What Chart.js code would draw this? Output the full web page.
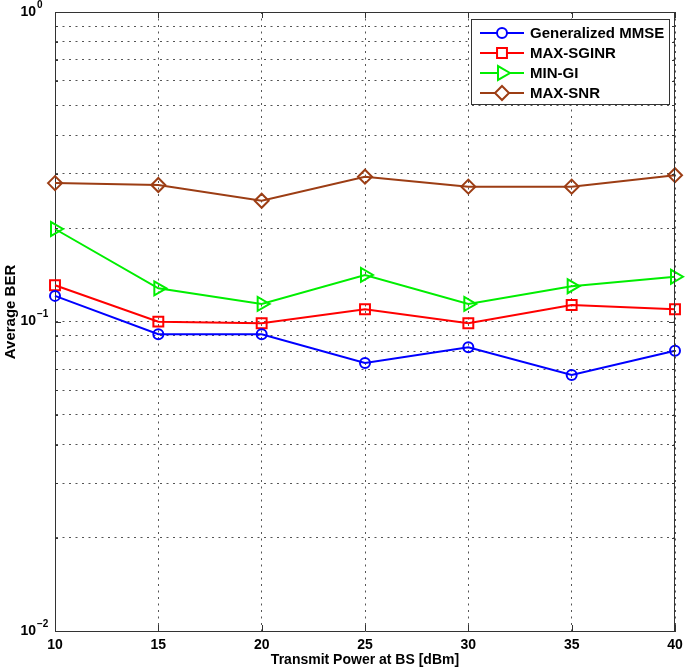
<!DOCTYPE html>
<html>
<head>
<meta charset="utf-8">
<script src="https://cdn.jsdelivr.net/npm/chart.js@4/dist/chart.umd.min.js"></script>
<style>
  html, body { margin: 0; padding: 0; background: #fff; }
  #wrap { width: 685px; height: 670px; }
</style>
</head>
<body>
<div id="wrap"><canvas id="grafico" width="685" height="670"></canvas></div>
<script>
// Datos
var potencias = [10, 15, 20, 25, 30, 35, 40];
var berMMSE   = [0.121, 0.091, 0.091, 0.0735, 0.0825, 0.0672, 0.0805];
var berSGINR  = [0.131, 0.0999, 0.0987, 0.1095, 0.0987, 0.113, 0.1095];
var berMINGI  = [0.199, 0.128, 0.114, 0.1414, 0.114, 0.130, 0.1395];
var berMAXSNR = [0.280, 0.276, 0.2456, 0.2937, 0.2727, 0.2727, 0.297];

var etiquetas = ['Generalized MMSE', 'MAX-SGINR', 'MIN-GI', 'MAX-SNR'];
var ticksX = [10, 15, 20, 25, 30, 35, 40];
var ticksY = [0.01, 0.02, 0.03, 0.04, 0.05, 0.06, 0.07, 0.08, 0.09,
              0.1, 0.2, 0.3, 0.4, 0.5, 0.6, 0.7, 0.8, 0.9, 1];
var decadas = [1, 0.1, 0.01];
var exponentes = ['0', '\u22121', '\u22122'];

var fuente = '"Liberation Sans", Arial, sans-serif';

function puntos(valores) {
    return potencias.map(function (p, i) { return { x: p, y: valores[i] }; });
}

function serie(nombre, valores, color, estilo, radio, rot) {
    return {
        label: nombre,
        data: puntos(valores),
        borderColor: color,
        backgroundColor: color,
        borderWidth: 2,
        pointStyle: estilo,
        pointRadius: radio,
        pointRotation: rot || 0,
        pointBorderColor: color,
        pointBorderWidth: 2,
        pointBackgroundColor: 'rgba(0,0,0,0)',
        tension: 0,
        clip: false
    };
}

// Dibuja un marcador simple para la leyenda (mismo tamaño que Chart.js)
function marcador(ctx, estilo, x, y, r, color) {
    ctx.save();
    ctx.strokeStyle = color;
    ctx.lineWidth = 2;
    ctx.fillStyle = '#fff';
    ctx.beginPath();
    if (estilo === 'circle') {
        ctx.arc(x, y, r, 0, Math.PI * 2);
    } else if (estilo === 'rect') {
        var s = r * Math.SQRT1_2;
        ctx.rect(x - s, y - s, s * 2, s * 2);
    } else if (estilo === 'triangle') {
        ctx.moveTo(x + r, y);
        ctx.lineTo(x - r * 0.5, y - r * 0.87);
        ctx.lineTo(x - r * 0.5, y + r * 0.87);
        ctx.closePath();
    } else if (estilo === 'rectRot') {
        ctx.moveTo(x, y - r);
        ctx.lineTo(x + r, y);
        ctx.lineTo(x, y + r);
        ctx.lineTo(x - r, y);
        ctx.closePath();
    }
    ctx.fill();
    ctx.stroke();
    ctx.restore();
}

var extras = {
    id: 'extras',
    afterDraw: function (chart) {
        var ctx = chart.ctx;
        var a = chart.chartArea;
        var sy = chart.scales.y;
        var sx = chart.scales.x;

        // marco superior y derecho + marcas interiores
        ctx.save();
        ctx.strokeStyle = '#333';
        ctx.lineWidth = 1;
        ctx.beginPath();
        ctx.moveTo(a.left, a.top + 0.5);
        ctx.lineTo(a.right, a.top + 0.5);
        ctx.moveTo(a.right - 0.5, a.top);
        ctx.lineTo(a.right - 0.5, a.bottom);
        ticksY.forEach(function (v) {
            var y = Math.round(sy.getPixelForValue(v)) + 0.5;
            var l = decadas.indexOf(v) >= 0 ? 6 : 3;
            ctx.moveTo(a.left, y); ctx.lineTo(a.left + l, y);
            ctx.moveTo(a.right, y); ctx.lineTo(a.right - l, y);
        });
        ticksX.forEach(function (v) {
            var x = Math.round(sx.getPixelForValue(v)) + 0.5;
            ctx.moveTo(x, a.bottom); ctx.lineTo(x, a.bottom - 6);
            ctx.moveTo(x, a.top); ctx.lineTo(x, a.top + 6);
        });
        ctx.stroke();
        ctx.restore();

        // etiquetas del eje Y con exponente
        ctx.save();
        ctx.fillStyle = '#000';
        ctx.textBaseline = 'middle';
        decadas.forEach(function (v, i) {
            var y = sy.getPixelForValue(v);
            ctx.font = 'bold 14px ' + fuente;
            ctx.textAlign = 'right';
            ctx.fillText('10', 36, y);
            ctx.font = 'bold 10px ' + fuente;
            ctx.textAlign = 'left';
            ctx.fillText(exponentes[i], 37, y - 7);
        });
        // título del eje Y
        ctx.translate(11, 312);
        ctx.rotate(-Math.PI / 2);
        ctx.textAlign = 'center';
        ctx.font = 'bold 15px ' + fuente;
        ctx.fillText('Average BER', 0, 0);
        ctx.restore();

        // leyenda dentro del área
        ctx.save();
        ctx.fillStyle = '#fff';
        ctx.fillRect(471, 19, 198, 85);
        ctx.strokeStyle = '#333';
        ctx.lineWidth = 1;
        ctx.strokeRect(471.5, 19.5, 198, 85);
        chart.data.datasets.forEach(function (ds, i) {
            var y = 33 + i * 20;
            ctx.strokeStyle = ds.borderColor;
            ctx.lineWidth = 2;
            ctx.beginPath();
            ctx.moveTo(480, y);
            ctx.lineTo(524, y);
            ctx.stroke();
            marcador(ctx, ds.pointStyle, 502, y, ds.pointRadius, ds.borderColor);
            ctx.fillStyle = '#000';
            ctx.font = 'bold 15px ' + fuente;
            ctx.textAlign = 'left';
            ctx.textBaseline = 'middle';
            ctx.fillText(ds.label, 530, y + 1);
        });
        ctx.restore();
    }
};

var ctxBER = document.getElementById('grafico').getContext('2d');
var grafico = new Chart(ctxBER, {
    type: 'line',
    data: {
        datasets: [
            serie(etiquetas[0], berMMSE, '#0000ff', 'circle', 5),
            serie(etiquetas[1], berSGINR, '#ff0000', 'rect', 7),
            serie(etiquetas[2], berMINGI, '#00ee00', 'triangle', 8, 90),
            serie(etiquetas[3], berMAXSNR, '#9c3d14', 'rectRot', 7)
        ]
    },
    options: {
        responsive: false,
        animation: false,
        events: [],
        layout: { autoPadding: false, padding: { top: 12, right: 10, left: 0, bottom: 0 } },
        plugins: {
            legend: { display: false },
            tooltip: { enabled: false }
        },
        scales: {
            x: {
                type: 'linear',
                min: 10,
                max: 40,
                afterBuildTicks: function (scale) {
                    scale.ticks = ticksX.map(function (v) { return { value: v }; });
                },
                afterFit: function (scale) {
                    scale.height = 39;
                    scale.paddingLeft = 0;
                    scale.paddingRight = 0;
                },
                ticks: {
                    color: '#000',
                    font: { family: fuente, size: 14, weight: 'bold' },
                    padding: 6,
                    maxRotation: 0
                },
                grid: { color: '#555', lineWidth: 1, drawTicks: false },
                border: { color: '#333', width: 1, dash: [2, 4.5] },
                title: {
                    display: true,
                    text: 'Transmit Power at BS [dBm]',
                    color: '#000',
                    font: { family: fuente, size: 14, weight: 'bold' },
                    padding: { top: 0, bottom: 1 }
                }
            },
            y: {
                type: 'logarithmic',
                min: 0.01,
                max: 1,
                afterBuildTicks: function (scale) {
                    scale.ticks = ticksY.map(function (v) { return { value: v }; });
                },
                afterFit: function (scale) {
                    scale.width = 55;
                    scale.paddingTop = 0;
                    scale.paddingBottom = 0;
                },
                ticks: { display: false },
                grid: { color: '#555', lineWidth: 1, drawTicks: false },
                border: { color: '#333', width: 1, dash: [2, 4.5] }
            }
        }
    },
    plugins: [extras]
});
</script>
</body>
</html>
